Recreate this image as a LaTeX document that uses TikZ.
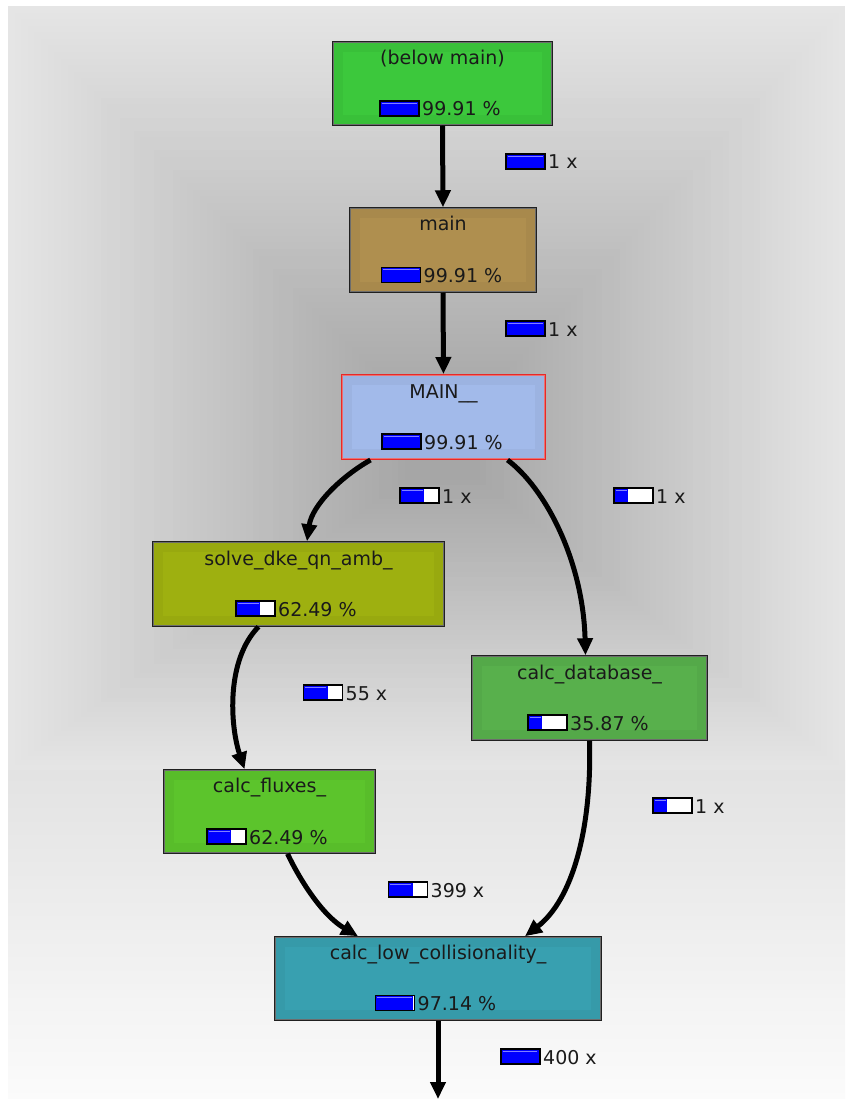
\documentclass[tikz,border=0pt]{standalone}
\usepackage{fontspec}
\setmainfont{DejaVu Sans}
\usetikzlibrary{arrows.meta,calc}
\definecolor{cBM}{HTML}{3CC83C}
\definecolor{cMain}{HTML}{AF8F4F}
\definecolor{cMAIN}{HTML}{A2BAEA}
\definecolor{cSolve}{HTML}{9EB010}
\definecolor{cDB}{HTML}{58B04C}
\definecolor{cFlux}{HTML}{5CC42C}
\definecolor{cLow}{HTML}{38A0B0}
\definecolor{barblue}{HTML}{0000FF}
\definecolor{barhl}{HTML}{8080FF}
\definecolor{txt}{HTML}{1A1A1A}
\definecolor{nborder}{HTML}{202020}
\definecolor{mainred}{HTML}{E82828}
\definecolor{bgC}{HTML}{A6A6A6}
\definecolor{bgE}{HTML}{E5E5E5}
\definecolor{bgB}{HTML}{E2E2E2}
\definecolor{bgW}{HTML}{FBFBFB}
\tikzset{
  fn/.style={draw=nborder, line width=1.5pt, inner sep=0pt},
  ttl/.style={font=\fontsize{19}{22}\selectfont, text=txt, inner sep=0pt, anchor=base},
  lbl/.style={font=\fontsize{19}{22}\selectfont, text=txt, inner sep=0pt, anchor=base west},
  edge/.style={line width=5pt, black, -{Triangle[length=17pt,width=15pt]}},
  cgbar/.pic={
    \fill[white] (0,0) rectangle (39,15);
    \fill[barblue] (0,0) rectangle ({39*#1},15);
    \draw[barhl, line width=1pt] (1.5,2.2) -- ({39*#1-1.5},2.2);
    \draw[black, line width=1.3pt] (0,0) rectangle (39,15);
  }
}
\newcommand\cgrow[5]{%
  \pic at (#2,#3) {cgbar=#4};
  \node[lbl] (#1) at ({#2+42},{#3+15}) {#5};
}
\newcommand\cgdeco[1]{%
  \draw[black, opacity=0.035, line width=10pt] ([shift={(6pt,-6pt)}]#1.north west) rectangle ([shift={(-6pt,6pt)}]#1.south east);
  \draw[white, opacity=0.35, line width=1pt] ([shift={(1.6pt,-1.6pt)}]#1.north west) rectangle ([shift={(-1.6pt,1.6pt)}]#1.south east);
}
\begin{document}
\begin{tikzpicture}[x=1pt,y=-1pt]
\useasboundingbox (0,0) rectangle (845,1099);
\fill[white] (0,0) rectangle (845,1099);
% background gradient: nested rectangles
\fill[top color=bgB, bottom color=bgW] (8,760) rectangle (845,1099);
\foreach \i in {0,...,60}{
  \pgfmathsetmacro\tt{\i/60}
  \pgfmathtruncatemacro\pp{100*\tt}
  \fill[bgC!\pp!bgE] ({8+397*\tt},{6+394*\tt}) rectangle ({845-365*\tt},{770-290*\tt});
}

% nodes
\node[fn, fill=cBM, minimum width=219pt, minimum height=83pt] (BM) at (442.5,83.5) {};
\node[fn, fill=cMain, minimum width=186pt, minimum height=84pt] (main) at (443,250) {};
\node[fn, draw=mainred, line width=2pt, fill=cMAIN, minimum width=203pt, minimum height=84pt] (MAIN) at (443.5,417) {};
\node[fn, fill=cSolve, minimum width=291pt, minimum height=84pt] (solve) at (298.5,584) {};
\node[fn, fill=cDB, minimum width=235pt, minimum height=84pt] (db) at (589.5,698) {};
\node[fn, fill=cFlux, minimum width=211pt, minimum height=83pt] (flux) at (269.5,811.5) {};
\node[fn, fill=cLow, minimum width=326pt, minimum height=83pt] (low) at (438,978.5) {};
\coordinate (out) at (438,1099);
\cgdeco{BM}\cgdeco{main}\cgdeco{MAIN}\cgdeco{solve}\cgdeco{db}\cgdeco{flux}\cgdeco{low}

% edges
\draw[edge] (BM.south) -- (main.north);
\draw[edge] (main.south) -- (MAIN.north);
\draw[edge] ([xshift=-73pt]MAIN.south) .. controls (342,476) and (312,505) .. ([xshift=8.5pt]solve.north);
\draw[edge] ([xshift=64pt]MAIN.south) .. controls (545,488) and (583,560) .. ([xshift=-4pt]db.north);
\draw[edge] ([xshift=-40pt]solve.south) .. controls (226,660) and (230,725) .. ([xshift=-25pt]flux.north);
\draw[edge] ([xshift=18pt]flux.south) .. controls (300,880) and (322,915) .. ([xshift=-80pt]low.north);
\draw[edge] (db.south) .. controls (592,830) and (572,900) .. ([xshift=87pt]low.north);
\draw[edge] (low.south) -- (out);

% titles
\node[ttl] (tBM) at (442.5,65) {(below main)};
\node[ttl] (tmain) at (443,231) {main};
\node[ttl] (tMAIN) at (443.5,398) {MAIN\_\_};
\node[ttl] (tsolve) at (298.5,565) {solve\_dke\_qn\_amb\_};
\node[ttl] (tdb) at (589.5,679) {calc\_database\_};
\node[ttl] (tflux) at (269.5,792) {calc\_fluxes\_};
\node[ttl] (tlow) at (438,959) {calc\_low\_collisionality\_};

% percentage rows
\cgrow{pBM}{380}{101}{0.999}{99.91 \%}
\cgrow{pmain}{381.5}{267.5}{0.999}{99.91 \%}
\cgrow{pMAIN}{382}{434}{0.999}{99.91 \%}
\cgrow{psolve}{236}{601}{0.625}{62.49 \%}
\cgrow{pdb}{528}{715}{0.36}{35.87 \%}
\cgrow{pflux}{207}{829}{0.625}{62.49 \%}
\cgrow{plow}{375.5}{995.5}{0.97}{97.14 \%}

% edge labels
\cgrow{e1}{506}{154}{0.999}{1 x}
\cgrow{e2}{506}{321}{0.999}{1 x}
\cgrow{e3}{400}{488}{0.62}{1 x}
\cgrow{e4}{614}{488}{0.36}{1 x}
\cgrow{e5}{303.5}{685}{0.62}{55 x}
\cgrow{e6}{653}{798}{0.36}{1 x}
\cgrow{e7}{388.5}{882}{0.62}{399 x}
\cgrow{e8}{501}{1049}{0.97}{400 x}
\end{tikzpicture}
\end{document}
